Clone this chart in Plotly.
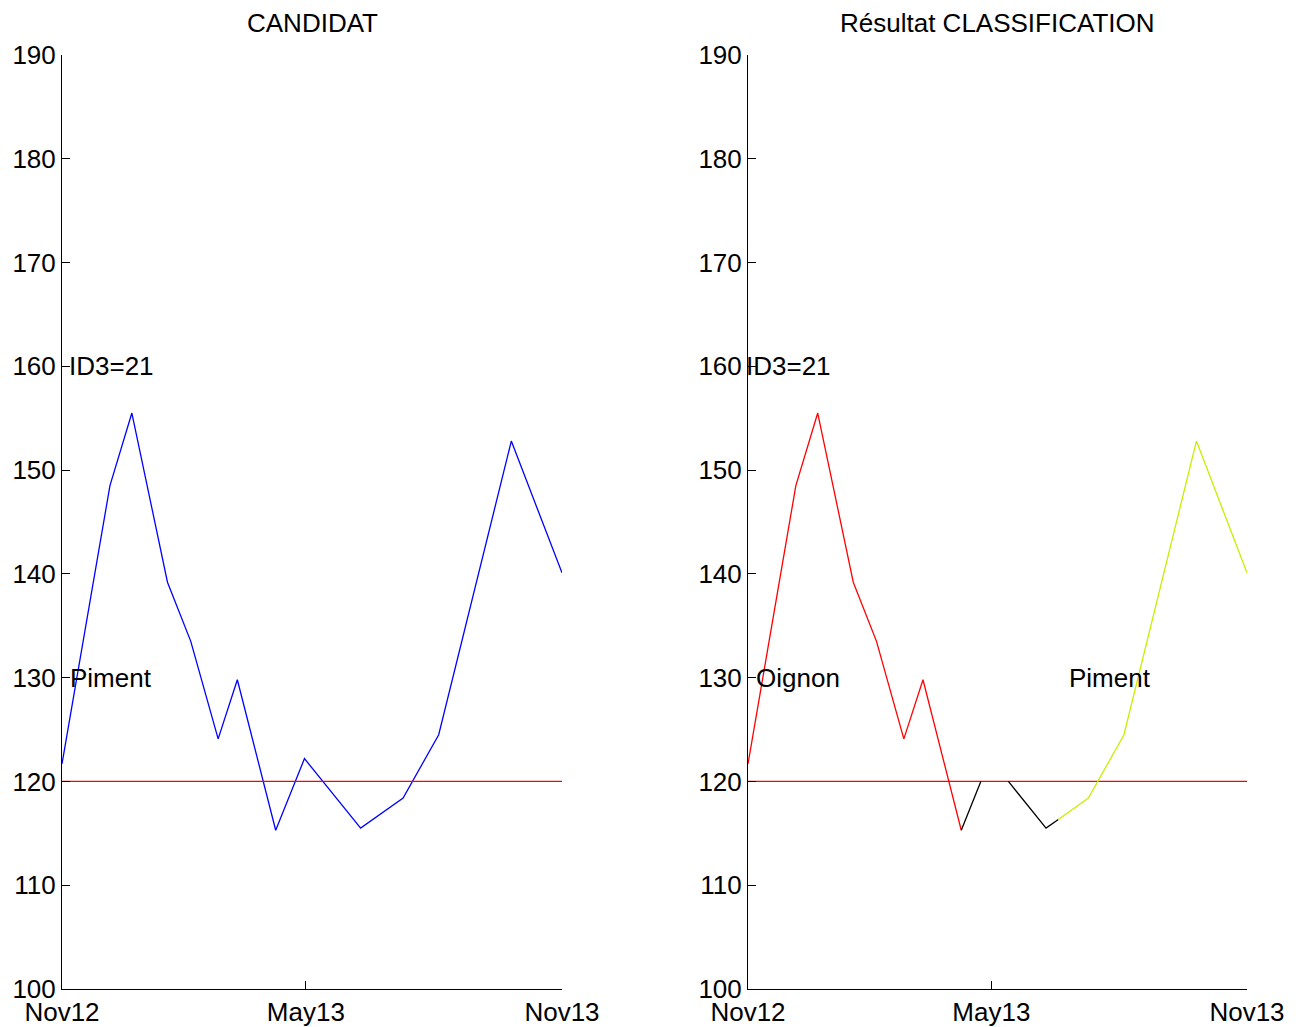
import numpy as np
import pandas as pd
import plotly.graph_objects as go

# candidate series
dates = ["2012-11-01", "2012-12-06", "2012-12-22", "2013-01-17", "2013-02-03",
         "2013-02-23", "2013-03-09", "2013-04-06", "2013-04-27", "2013-06-07",
         "2013-07-08", "2013-08-03", "2013-09-25", "2013-11-01"]
values = [121.7, 148.5, 155.5, 139.2, 133.5, 124.1, 129.8, 115.3, 122.2, 115.5,
          118.4, 124.5, 152.8, 140.1]
seuil = 120

x_range = ["2012-11-01", "2013-11-01"]
tick_dates = ["2012-11-01", "2013-04-28", "2013-11-01"]
tick_labels = ["Nov12", "May13", "Nov13"]

# classification result: one entry per class period
class_names = ["Oignon", "", "Piment"]
class_starts = ["2012-11-01", "2013-04-06", "2013-06-16"]
class_ends = ["2013-04-06", "2013-06-16", "2013-11-01"]
class_colors = ["#ff0000", "#000000", "#c4f000"]
class_below_only = [False, True, False]
label_dates = ["2012-11-01", None, "2013-06-22"]

id_label = "ID3=21"
titles = ["CANDIDAT", "Résultat CLASSIFICATION"]

FONT = "Liberation Sans, Arial, Helvetica, sans-serif"
FS = 26
W, H = 1301, 1027
LW = 1.3

t_ns = pd.to_datetime(dates).astype("int64").to_numpy()
v_arr = np.array(values, dtype=float)


def portion(start, end):
    a, b = pd.Timestamp(start).value, pd.Timestamp(end).value
    inner = t_ns[(t_ns > a) & (t_ns < b)]
    ts = np.concatenate([[a], inner, [b]]).astype(float)
    return ts, np.interp(ts, t_ns.astype(float), v_arr)


def clip_below(ts, vs, s):
    xs, ys = [], []
    for i in range(len(ts)):
        if i > 0 and (vs[i - 1] - s) * (vs[i] - s) < 0:
            f = (s - vs[i - 1]) / (vs[i] - vs[i - 1])
            xs.append(ts[i - 1] + f * (ts[i] - ts[i - 1]))
            ys.append(s)
            if vs[i] > s:
                xs.append(None)
                ys.append(None)
        if vs[i] <= s:
            xs.append(ts[i])
            ys.append(vs[i])
    return xs, ys


def to_dates(xs):
    return [None if x is None else pd.Timestamp(int(x)) for x in xs]


fig = go.Figure()

# left panel
fig.add_trace(go.Scatter(x=pd.to_datetime(dates), y=values, mode="lines",
                         line=dict(color="#0000ff", width=LW), xaxis="x", yaxis="y"))
fig.add_trace(go.Scatter(x=pd.to_datetime(x_range), y=[seuil, seuil], mode="lines",
                         line=dict(color="#ff0000", width=LW), xaxis="x", yaxis="y"))

# right panel
fig.add_trace(go.Scatter(x=pd.to_datetime(x_range), y=[seuil, seuil], mode="lines",
                         line=dict(color="#ff0000", width=LW), xaxis="x2", yaxis="y2"))
for s, e, c, below in zip(class_starts, class_ends, class_colors, class_below_only):
    ts, vs = portion(s, e)
    if below:
        xs, ys = clip_below(ts, vs, seuil)
    else:
        xs, ys = list(ts), list(vs)
    fig.add_trace(go.Scatter(x=to_dates(xs), y=ys, mode="lines",
                             line=dict(color=c, width=LW), xaxis="x2", yaxis="y2"))

x_dom = [[62 / W, 562 / W], [748 / W, 1247 / W]]
y_dom = [(H - 989) / H, (H - 55) / H]

axis_common = dict(showline=True, linecolor="black", linewidth=1, showgrid=False,
                   zeroline=False, ticks="inside", ticklen=8, tickcolor="black",
                   automargin=False,
                   tickfont=dict(family=FONT, size=FS, color="black"))

layout_axes = {}
for i, dom in enumerate(x_dom):
    sfx = "" if i == 0 else str(i + 1)
    layout_axes["xaxis" + sfx] = dict(axis_common, domain=dom, anchor="y" + sfx,
                                       type="date", range=pd.to_datetime(x_range),
                                       tickvals=pd.to_datetime(tick_dates),
                                       ticktext=tick_labels)
    layout_axes["yaxis" + sfx] = dict(axis_common, domain=y_dom, anchor="x" + sfx,
                                       range=[100, 190], dtick=10, tick0=100)

annots = []
for i, title in enumerate(titles):
    annots.append(dict(text=title, xref="paper", yref="paper",
                       x=sum(x_dom[i]) / 2, y=(H - 23) / H, showarrow=False,
                       xanchor="center", yanchor="middle",
                       font=dict(family=FONT, size=FS, color="black")))

txt = dict(showarrow=False, xanchor="left", yanchor="middle",
           font=dict(family=FONT, size=FS, color="black"))
annots.append(dict(txt, text=id_label, xref="x", yref="y", x=dates[0], y=160, xshift=5))
annots.append(dict(txt, text="Piment", xref="x", yref="y", x=dates[0], y=130, xshift=6))
annots.append(dict(txt, text=id_label, xref="x2", yref="y2", x=dates[0], y=160, xshift=-4))
for name, d in zip(class_names, label_dates):
    if name:
        shift = 6 if d == dates[0] else 0
        annots.append(dict(txt, text=name, xref="x2", yref="y2", x=d, y=130, xshift=shift))

fig.update_layout(width=W, height=H, margin=dict(l=0, r=0, t=0, b=0),
                  paper_bgcolor="white", plot_bgcolor="white", showlegend=False,
                  hovermode=False, annotations=annots, **layout_axes)

# drop the page's default body margin so the figure fills the window
fig.write_html("out.html", config={"displayModeBar": False},
               post_script="document.body.style.margin='0';"
                           "document.body.style.overflow='hidden';")
